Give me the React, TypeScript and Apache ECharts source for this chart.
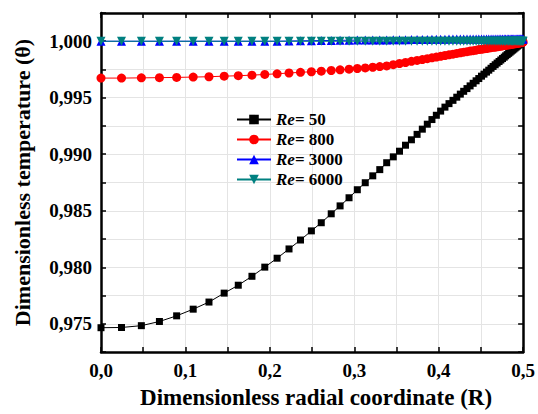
import React, { useEffect, useRef } from "react";
import * as echarts from "echarts";

const FONT = '"Liberation Serif", "Times New Roman", serif';

const seriesNames = ["Re= 50", "Re= 800", "Re= 3000", "Re= 6000"];
const seriesColors = ["#000000", "#ff0000", "#0000ff", "#008080"];

const rValues = [
  0, 0.0243, 0.0478, 0.0692, 0.0896, 0.1092, 0.1279, 0.1459, 0.1626, 0.1788,
  0.194, 0.2086, 0.2227, 0.2363, 0.2492, 0.2609, 0.2727, 0.2832, 0.2938, 0.3036,
  0.313, 0.3219, 0.3302, 0.3384, 0.3462, 0.3536, 0.3607, 0.3677, 0.3744, 0.3806,
  0.3865, 0.392, 0.3972, 0.4023, 0.4074,
  0.4122, 0.4169, 0.4214, 0.4256, 0.4296, 0.4335, 0.4372, 0.4408, 0.4443, 0.4475,
  0.4507, 0.4536, 0.4566, 0.4593, 0.462, 0.4644, 0.4669, 0.4692, 0.4715, 0.4736,
  0.4756, 0.4776, 0.4793, 0.4811, 0.4829, 0.4845, 0.486, 0.4876, 0.489, 0.4904,
  0.4917, 0.493, 0.4941, 0.4953, 0.4964, 0.4974, 0.4985, 0.4994, 0.5,
];

const theta50 = [
  0.97465, 0.97467, 0.97483, 0.9752, 0.9757, 0.97629, 0.97692, 0.97771, 0.97841, 0.9792,
  0.98001, 0.9808, 0.98162, 0.98241, 0.98322, 0.98394, 0.98473, 0.98543, 0.98615, 0.98686,
  0.98748, 0.98809, 0.98864, 0.98925, 0.98977, 0.99027, 0.9908, 0.99128, 0.99176, 0.99222,
  0.99266, 0.99307, 0.99345, 0.99382, 0.99417,
  0.99448, 0.99477, 0.99505, 0.99532, 0.99557, 0.99581, 0.99605, 0.99628, 0.9965, 0.9967,
  0.99691, 0.99709, 0.99727, 0.99744, 0.99761, 0.99777, 0.99792, 0.99807, 0.99821, 0.99834,
  0.99847, 0.99859, 0.99871, 0.99882, 0.99893, 0.99903, 0.99913, 0.99922, 0.99931, 0.9994,
  0.99948, 0.99956, 0.99963, 0.99971, 0.99977, 0.99984, 0.9999, 0.99996, 1.0,
];

const theta800 = [
  0.99674, 0.99674, 0.99676, 0.99678, 0.9968, 0.99683, 0.99686, 0.99691, 0.99695, 0.997,
  0.99706, 0.99712, 0.99719, 0.99725, 0.9973, 0.99735, 0.99741, 0.99747, 0.99753, 0.99759,
  0.99764, 0.9977, 0.99776, 0.99782, 0.99793, 0.99803, 0.99812, 0.99822, 0.9983, 0.99838,
  0.99846, 0.99853, 0.9986, 0.99867, 0.99874,
  0.9988, 0.99886, 0.99892, 0.99898, 0.99903, 0.99908, 0.99913, 0.99917, 0.99921, 0.99926,
  0.99929, 0.99933, 0.99936, 0.9994, 0.99943, 0.99946, 0.99948, 0.99951, 0.99954, 0.99956,
  0.99959, 0.99962, 0.99963, 0.99966, 0.99968, 0.9997, 0.99972, 0.99974, 0.99976, 0.99977,
  0.99979, 0.99981, 0.99983, 0.99984, 0.99986, 0.99988, 0.9999, 0.99991, 0.99993,
];

const theta3000 = [
  1.0, 1.0, 1.0, 1.0, 1.0, 1.0, 1.0, 1.0, 1.0, 1.0,
  1.0, 1.0, 1.00002, 1.00004, 1.00005, 1.00006, 1.00007, 1.00008, 1.00009, 1.0001,
  1.00011, 1.00011, 1.00012, 1.00012, 1.00013, 1.00014, 1.00014, 1.00015, 1.00015, 1.00016,
  1.00016, 1.00017, 1.00017, 1.00018, 1.00018,
  1.00019, 1.00019, 1.00019, 1.00019, 1.00019, 1.00019, 1.00019, 1.00019, 1.00019, 1.00019,
  1.00019, 1.00019, 1.00019, 1.00019, 1.00019, 1.0002, 1.0002, 1.0002, 1.0002, 1.0002,
  1.0002, 1.0002, 1.0002, 1.0002, 1.0002, 1.0002, 1.0002, 1.0002, 1.0002, 1.0002,
  1.0002, 1.0002, 1.0002, 1.0002, 1.0002, 1.0002, 1.0002, 1.0002, 1.0002,
];

const theta6000 = [
  1.0, 1.0, 1.0, 1.0, 1.0, 1.0, 1.0, 1.0, 1.0, 1.0,
  1.0, 1.0, 1.0, 1.0, 1.0, 1.0, 1.0, 1.0, 1.0, 1.0,
  1.0, 1.0, 1.0, 1.0, 1.0, 1.0, 1.0, 1.0, 1.0, 1.0,
  1.0, 1.0, 1.0, 1.0, 1.0,
  1.0, 1.0, 1.0, 1.0, 1.0, 1.0, 1.0, 1.0, 1.0, 1.0,
  1.0, 1.0, 1.0, 1.0, 1.0, 1.0, 1.0, 1.0, 1.0, 1.0,
  1.0, 1.0, 1.0, 1.0, 1.0, 1.0, 1.0, 1.0, 1.0, 1.0,
  1.0, 1.0, 1.0, 1.0, 1.0, 1.0, 1.0, 1.0, 1.0,
];

const seriesValues = [theta50, theta800, theta3000, theta6000];
const seriesSymbols = ["rect", "circle", "triangle", "path://M0,0L10,0L5,9Z"];
const seriesSymbolSizes: any[] = [7, 9, 9, [9, 9]];

const xTitle = "Dimensionless radial coordinate (R)";
const yTitle = "Dimensionless temperature (θ)";

export default function App() {
  const ref = useRef<HTMLDivElement>(null);
  useEffect(() => {
    if (!ref.current) return;
    const chart = echarts.init(ref.current, null, { renderer: "svg" });
    const fmtY = (v: number) => {
      const k = Math.round(v / 0.0025);
      if (k % 2 !== 0) return "";
      return (k * 0.0025).toFixed(3).replace(".", ",");
    };
    const fmtX = (v: number) => {
      const k = Math.round(v / 0.05);
      if (k % 2 !== 0) return "";
      return (k * 0.05).toFixed(1).replace(".", ",");
    };
    const axisLine = { show: true, onZero: false, lineStyle: { color: "#000", width: 2.5 } };
    const tick = { show: true, inside: true, length: 5, lineStyle: { color: "#000", width: 1.5 } };
    const split = { show: true, lineStyle: { color: "#e4e4e4", width: 1 } };
    const labelStyle = { color: "#000", fontFamily: FONT, fontWeight: "bold" as const, fontSize: 19 };
    const richBase = { fontFamily: FONT, fontWeight: "bold" as const, fontSize: 17, color: "#000", lineHeight: 14 };

    const option: any = {
      animation: false,
      backgroundColor: "#fff",
      grid: { left: 101, right: 11, top: 13, bottom: 56, containLabel: false },
      legend: {
        left: 231,
        top: 106,
        orient: "vertical",
        itemWidth: 34,
        itemHeight: 12,
        itemGap: 3,
        data: seriesNames,
        formatter: (name: string) => `{i|Re}{b|${name.slice(2)}}`,
        textStyle: {
          rich: {
            i: { ...richBase, fontStyle: "italic" },
            b: { ...richBase },
          },
        },
      },
      xAxis: [
        {
          type: "value",
          min: 0,
          max: 0.5,
          interval: 0.05,
          position: "bottom",
          name: xTitle,
          nameLocation: "middle",
          nameGap: 34,
          nameTextStyle: { ...labelStyle, fontSize: 23, padding: [0, 0, 0, 8] },
          axisLine,
          axisTick: tick,
          axisLabel: { ...labelStyle, margin: 9, formatter: fmtX },
          splitLine: split,
        },
        {
          type: "value",
          min: 0,
          max: 0.5,
          interval: 0.05,
          position: "top",
          axisLine,
          axisTick: tick,
          axisLabel: { show: false },
          splitLine: { show: false },
        },
      ],
      yAxis: [
        {
          type: "value",
          min: 0.9725,
          max: 1.0025,
          interval: 0.0025,
          position: "left",
          name: yTitle,
          nameLocation: "middle",
          nameGap: 68,
          nameTextStyle: { ...labelStyle, fontSize: 22 },
          axisLine,
          axisTick: tick,
          axisLabel: { ...labelStyle, margin: 9, formatter: fmtY },
          splitLine: split,
        },
        {
          type: "value",
          min: 0.9725,
          max: 1.0025,
          interval: 0.0025,
          position: "right",
          axisLine,
          axisTick: tick,
          axisLabel: { show: false },
          splitLine: { show: false },
        },
      ],
      series: seriesNames.map((name, si) => ({
        name,
        type: "line",
        xAxisIndex: 0,
        yAxisIndex: 0,
        data: rValues.map((r, i) => [r, seriesValues[si][i]]),
        symbol: seriesSymbols[si],
        symbolSize: seriesSymbolSizes[si],
        showSymbol: true,
        showAllSymbol: true,
        clip: true,
        color: seriesColors[si],
        itemStyle: { color: seriesColors[si] },
        lineStyle: { color: seriesColors[si], width: 1 },
        z: 2 + si,
      })),
    };
    chart.setOption(option);
    return () => chart.dispose();
  }, []);
  return (
    <div
      ref={ref}
      style={{ position: "fixed", left: 0, top: 0, width: 538, height: 414 }}
    />
  );
}
